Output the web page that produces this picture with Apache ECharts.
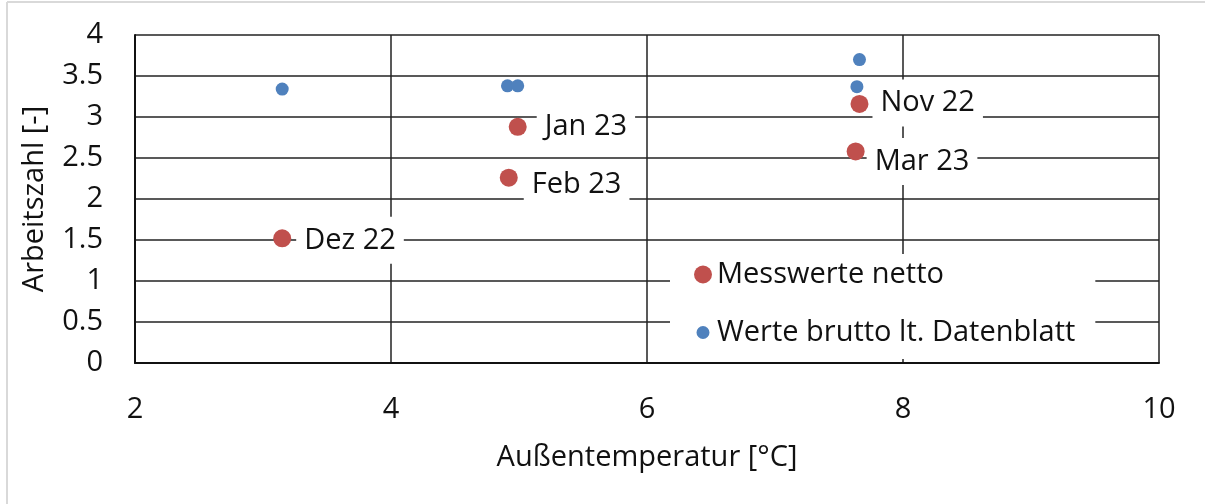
<!DOCTYPE html>
<html>
<head>
<meta charset="utf-8">
<script src="https://cdn.jsdelivr.net/npm/echarts@6/dist/echarts.min.js"></script>
<style>
  html, body { margin: 0; padding: 0; background: #fff; }
  #chart { width: 1205px; height: 504px; }
</style>
</head>
<body>
<div id="chart"></div>
<script>
// Monate und Messwerte
var monate = ['Nov 22', 'Dez 22', 'Jan 23', 'Feb 23', 'Mar 23'];
var temperatur = [7.66, 3.15, 4.99, 4.92, 7.63];
var netto = [3.16, 1.52, 2.88, 2.26, 2.58];
var bruttoTemperatur = [7.66, 3.15, 4.91, 4.99, 7.64];
var brutto = [3.70, 3.34, 3.38, 3.38, 3.37];
var xTicks = [2, 4, 6, 8, 10];

var FONT = '"Open Sans", sans-serif';
var FS = 29;
var ROT = '#C0504D';
var BLAU = '#4F81BD';
// Beschriftungen wurden im Original von Hand verschoben
var labelVersatz = [[-6, -1], [-5, 2], [0, 0], [-4, 7], [-8, 10]];
// kleiner Kreis mit unsichtbarem Rand, damit das Legendensymbol kleiner wirkt
var KLEINER_KREIS = 'path://M0,0M18,18M9,2.5A6.5,6.5,0,1,1,8.99,2.5Z';

var chart = echarts.init(document.getElementById('chart'));

var nettoDaten = monate.map(function (m, i) {
    return { name: m, value: [temperatur[i], netto[i]], label: { offset: labelVersatz[i] } };
});
var bruttoDaten = monate.map(function (m, i) {
    return { name: m, value: [bruttoTemperatur[i], brutto[i]] };
});

chart.setOption({
    animation: false,
    backgroundColor: '#fff',
    textStyle: { fontFamily: FONT },
    grid: { left: 135, right: 46, top: 35, bottom: 141 },
    xAxis: {
        type: 'value',
        min: xTicks[0],
        max: xTicks[xTicks.length - 1],
        interval: 2,
        name: 'Außentemperatur [°C]',
        nameLocation: 'middle',
        nameGap: 80,
        nameTextStyle: { fontSize: FS, color: '#111', fontFamily: FONT },
        axisLine: { lineStyle: { color: '#111', width: 2 } },
        axisTick: { show: false },
        axisLabel: { fontSize: FS, color: '#111', margin: 32, fontFamily: FONT },
        splitLine: { show: true, lineStyle: { color: '#222', width: 1.5 } }
    },
    yAxis: {
        type: 'value',
        min: 0,
        max: 4,
        interval: 0.5,
        name: 'Arbeitszahl [-]',
        nameLocation: 'middle',
        nameGap: 86,
        nameTextStyle: { fontSize: FS, color: '#111', fontFamily: FONT },
        axisLine: { show: true, lineStyle: { color: '#111', width: 2 } },
        axisTick: { show: false },
        axisLabel: { fontSize: FS, color: '#111', margin: 32, fontFamily: FONT },
        splitLine: { show: true, lineStyle: { color: '#222', width: 1.5 } }
    },
    legend: {
        data: [
            { name: 'Messwerte netto', icon: 'circle' },
            { name: 'Werte brutto lt. Datenblatt', icon: KLEINER_KREIS }
        ],
        orient: 'vertical',
        left: 670,
        top: 254,
        backgroundColor: '#fff',
        padding: [6, 20, 12, 24],
        itemGap: 29,
        itemWidth: 18,
        itemHeight: 18,
        textStyle: { fontSize: FS, color: '#111', lineHeight: 26, fontFamily: FONT }
    },
    series: [
        {
            name: 'Werte brutto lt. Datenblatt',
            type: 'scatter',
            symbolSize: 13,
            itemStyle: { color: BLAU, opacity: 1 },
            data: bruttoDaten
        },
        {
            name: 'Messwerte netto',
            type: 'scatter',
            symbolSize: 18,
            itemStyle: { color: ROT, opacity: 1 },
            label: {
                show: true,
                position: 'right',
                distance: 10,
                formatter: '{b}',
                fontSize: FS,
                color: '#111',
                fontFamily: FONT,
                backgroundColor: '#fff',
                padding: [9, 8, 9, 8]
            },
            data: nettoDaten
        }
    ],
    graphic: [
        { type: 'line', shape: { x1: 7, y1: 2, x2: 1205, y2: 2 }, style: { stroke: '#d9d9d9', lineWidth: 2 } },
        { type: 'line', shape: { x1: 7, y1: 2, x2: 7, y2: 504 }, style: { stroke: '#d9d9d9', lineWidth: 2 } }
    ]
});
</script>
</body>
</html>
